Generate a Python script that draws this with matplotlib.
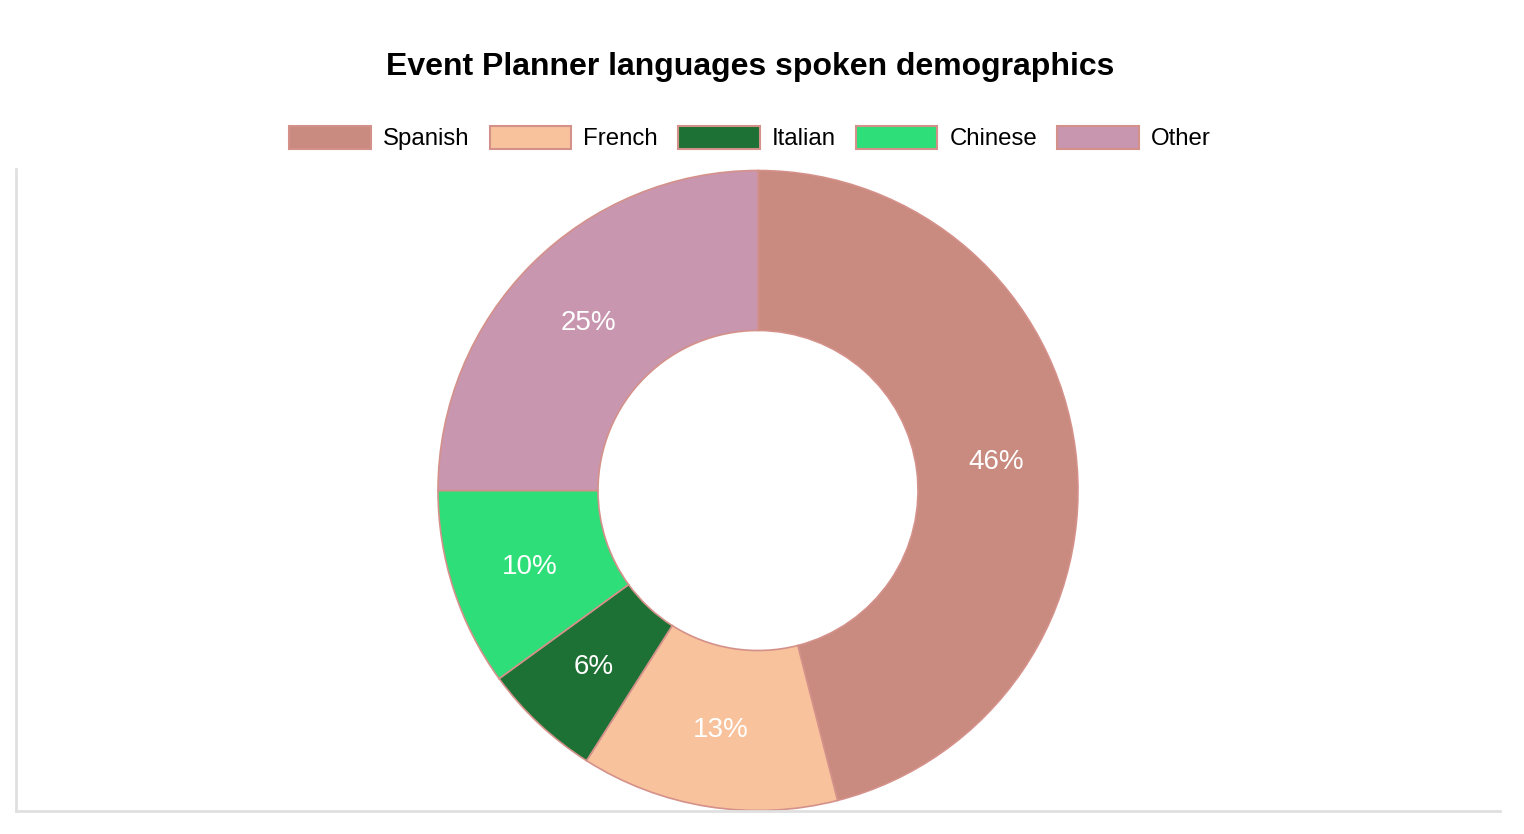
import matplotlib
matplotlib.use("Agg")
import matplotlib.pyplot as plt

categories = ["Spanish", "French", "Italian", "Chinese", "Other"]
values = [46, 13, 6, 10, 25]
colors = ["#c98a80", "#f8c29c", "#1e7134", "#2ede78", "#c996b0"]
edge_color = "#d4918a"
title = "Event Planner languages spoken demographics"

W, H = 1524, 834
fig = plt.figure(figsize=(W / 100, H / 100), dpi=100)
fig.patch.set_facecolor("white")

# axes frame in pixel coords
x0, x1 = 16, 1500
ytop, ybot = 169, 811
ax = fig.add_axes([x0 / W, (H - ybot) / H, (x1 - x0) / W, (ybot - ytop) / H])
ax.set_xlim(x0, x1)
ax.set_ylim(H - ybot, H - ytop)
for s in ["top", "right"]:
    ax.spines[s].set_visible(False)
for s in ["left", "bottom"]:
    ax.spines[s].set_color("#e0e0e0")
    ax.spines[s].set_linewidth(2)
ax.set_xticks([])
ax.set_yticks([])

cx, cy = 758, H - 490.5
R = 320
wedges, texts, autotexts = ax.pie(
    values, colors=colors, startangle=90, counterclock=False,
    radius=R, center=(cx, cy), frame=True,
    wedgeprops=dict(width=R / 2, edgecolor=edge_color, linewidth=1.2),
    autopct=lambda p: f"{p:.0f}%", pctdistance=0.75,
    textprops=dict(color="white", fontsize=20, family="Liberation Sans"),
)
for t in autotexts:
    x, y = t.get_position()
    t.set_position((x, y - 2))
ax.set_xlim(x0, x1)
ax.set_ylim(H - ybot, H - ytop)
ax.set_aspect("auto")

fig.text(750 / W, 1 - 67 / H, title, ha="center", va="center",
         fontsize=23, fontweight="bold", family="Liberation Sans")

handles = [plt.Rectangle((0, 0), 1, 1, facecolor=c, edgecolor=edge_color, linewidth=1.5)
           for c in colors]
leg = fig.legend(handles, categories, loc="center", bbox_to_anchor=(750 / W, 1 - 138 / H),
                 ncol=5, frameon=False, handlelength=3.4, handleheight=1.1,
                 handletextpad=0.5, columnspacing=0.83,
                 prop=dict(family="Liberation Sans", size=17.3))

fig.savefig("out.png", dpi=100, facecolor="white")
